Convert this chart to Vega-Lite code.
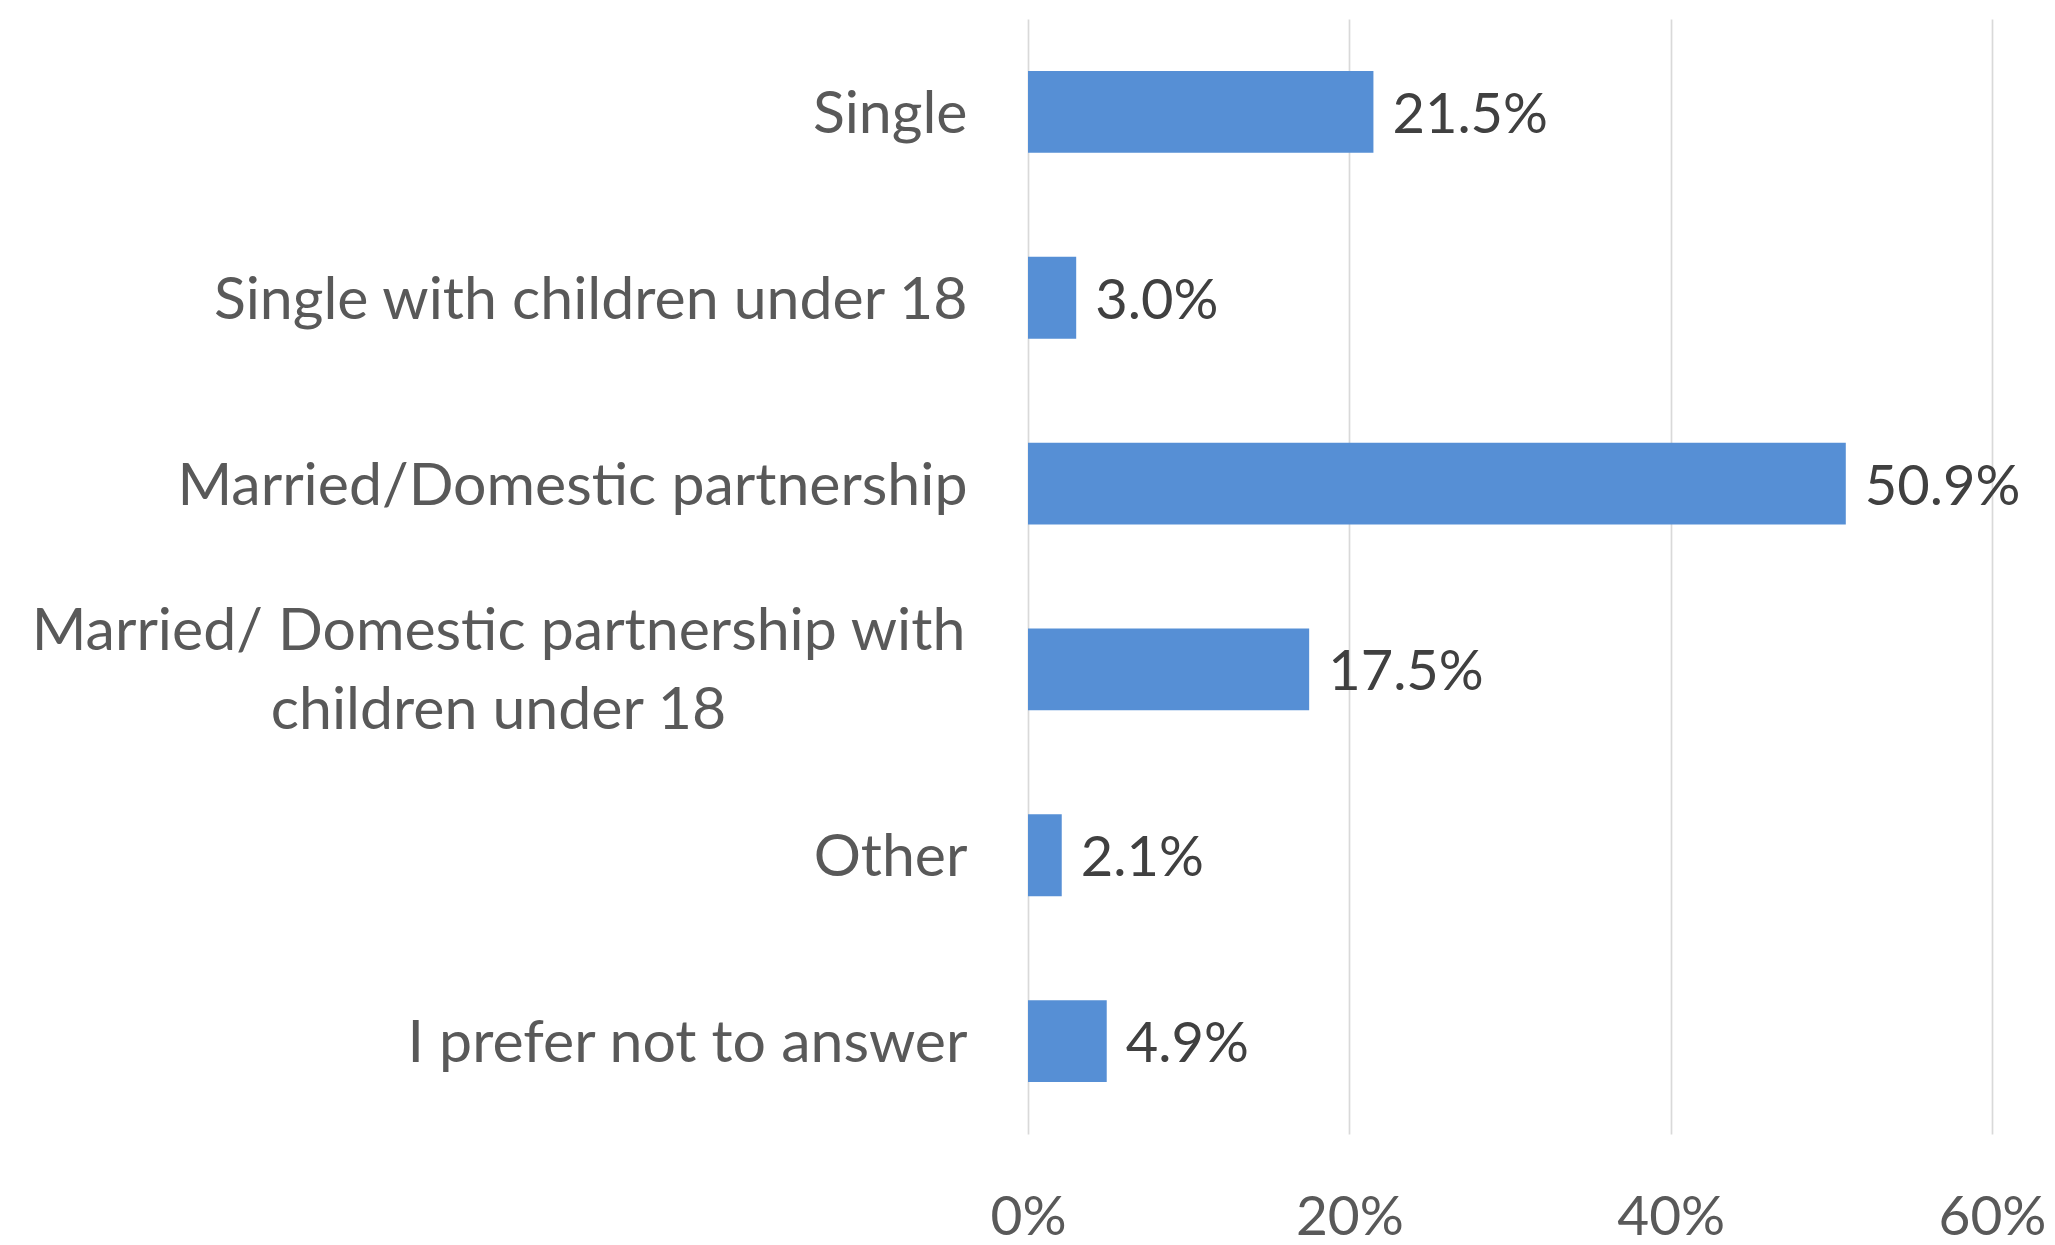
{
  "$schema": "https://vega.github.io/schema/vega-lite/v6.json",
  "autosize": "none",
  "width": 964,
  "height": 1115,
  "padding": {"left": 1028, "top": 19, "right": 63, "bottom": 111},
  "background": "white",
  "config": {"view": {"stroke": null}},
  "data": {
    "values": [
      {"status": "Single", "share": 0.215},
      {"status": "Single with children under 18", "share": 0.030},
      {"status": "Married/Domestic partnership", "share": 0.509},
      {"status": "Married/ Domestic partnership with children under 18", "share": 0.175},
      {"status": "Other", "share": 0.021},
      {"status": "I prefer not to answer", "share": 0.049}
    ]
  },
  "encoding": {
    "y": {
      "field": "status",
      "type": "nominal",
      "sort": null,
      "scale": {"paddingInner": 0.56, "paddingOuter": 0.28},
      "axis": {
        "title": null,
        "domain": false,
        "ticks": false,
        "grid": false,
        "labelFont": "Lato",
        "labelFontSize": 59,
        "labelColor": "#595959",
        "labelLimit": 1200,
        "labelLineHeight": 79,
        "labelAlign": {"condition": {"test": "length(datum.label) > 40", "value": "center"}, "value": "right"},
        "labelPadding": {"condition": {"test": "length(datum.label) > 40", "value": 530}, "value": 61},
        "labelOffset": {"condition": {"test": "length(datum.label) > 40", "value": -37}, "value": 3},
        "labelExpr": "length(datum.label) > 40 ? ['Married/ Domestic partnership with', 'children under 18'] : datum.label"
      }
    },
    "x": {
      "field": "share",
      "type": "quantitative",
      "scale": {"domain": [0, 0.6], "nice": false},
      "axis": {
        "title": null,
        "values": [0, 0.2, 0.4, 0.6],
        "format": ".0%",
        "domain": false,
        "ticks": false,
        "grid": true,
        "gridColor": "#d9d9d9",
        "gridWidth": 1.7,
        "labelFont": "Lato",
        "labelFontSize": 55,
        "labelColor": "#595959",
        "labelPadding": 57,
        "labelFlush": false
      }
    }
  },
  "layer": [
    {"mark": {"type": "bar", "color": "#568fd5"}},
    {
      "mark": {"type": "text", "align": "left", "baseline": "middle", "dx": 19, "dy": 4, "font": "Lato", "fontSize": 56, "color": "#404040"},
      "encoding": {"text": {"field": "share", "type": "quantitative", "format": ".1%"}}
    }
  ]
}
